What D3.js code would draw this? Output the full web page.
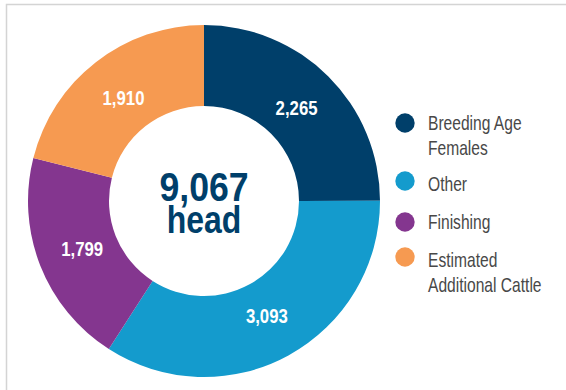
<!DOCTYPE html>
<html>
<head>
<meta charset="utf-8">
<script src="https://cdn.jsdelivr.net/npm/d3@7"></script>
<style>
  body { margin: 0; background: #fff; }
  svg { display: block; font-family: "Liberation Sans", Arial, sans-serif; }
</style>
</head>
<body>
<div class="chart"></div>
<script>
// data
var categories = ["Breeding Age Females", "Other", "Finishing", "Estimated Additional Cattle"];
var legendLines = [["Breeding Age", "Females"], ["Other"], ["Finishing"], ["Estimated", "Additional Cattle"]];
var values = [2265, 3093, 1799, 1910];
var colors = ["#003f6a", "#149bcd", "#84368f", "#f69a51"];
var totalLabel = ["9,067", "head"];

var svgWidth = 566, svgHeight = 390;

var svg = d3.select(".chart")
  .append("svg")
  .attr("width", svgWidth)
  .attr("height", svgHeight);

// panel border (left + top only visible)
svg.append("rect")
  .attr("x", 6.5)
  .attr("y", 4.5)
  .attr("width", svgWidth)
  .attr("height", svgHeight)
  .attr("fill", "none")
  .attr("stroke", "#d4d4d4")
  .attr("stroke-width", 1.5);

// condensed look: squeeze text horizontally
function condensed(sel, x, y, sx) {
  return sel.append("g")
    .attr("transform", `translate(${x}, ${y}) scale(${sx}, 1)`)
    .append("text");
}

var cx = 204, cy = 201;
var outerR = 176, innerR = 95;

var pie = d3.pie().sort(null).value(d => d);
var arcs = pie(values);

var arc = d3.arc().innerRadius(innerR).outerRadius(outerR);
var labelArc = d3.arc().innerRadius(131).outerRadius(131);

var chartGroup = svg.append("g")
  .attr("transform", `translate(${cx}, ${cy})`);

chartGroup.selectAll("path")
  .data(arcs)
  .enter()
  .append("path")
  .attr("d", arc)
  .attr("fill", (d, i) => colors[i]);

// slice labels
arcs.forEach(function (d) {
  var c = labelArc.centroid(d);
  condensed(chartGroup, c[0], c[1] + 7, 0.86)
    .attr("text-anchor", "middle")
    .attr("fill", "#fff")
    .attr("font-size", "19.5px")
    .attr("font-weight", "bold")
    .text(d3.format(",")(d.data));
});

// center total
condensed(chartGroup, 0, 0, 0.88)
  .attr("text-anchor", "middle")
  .attr("fill", "#003f6a")
  .attr("font-size", "40.5px")
  .attr("font-weight", "bold")
  .text(totalLabel[0]);

condensed(chartGroup, 0, 32, 0.82)
  .attr("text-anchor", "middle")
  .attr("fill", "#003f6a")
  .attr("font-size", "39px")
  .attr("font-weight", "bold")
  .text(totalLabel[1]);

// legend
var dotY = [123, 181, 222, 257];
var textY = [130, 191, 229, 267];
var legend = svg.append("g");

categories.forEach(function (name, i) {
  legend.append("circle")
    .attr("cx", 405)
    .attr("cy", dotY[i])
    .attr("r", 9.7)
    .attr("fill", colors[i]);

  var t = condensed(legend, 428, textY[i], 0.78)
    .attr("fill", "#484848")
    .attr("font-size", "20px");
  legendLines[i].forEach(function (line, j) {
    t.append("tspan")
      .attr("x", 0)
      .attr("dy", j === 0 ? 0 : 25)
      .text(line);
  });
});
</script>
</body>
</html>
